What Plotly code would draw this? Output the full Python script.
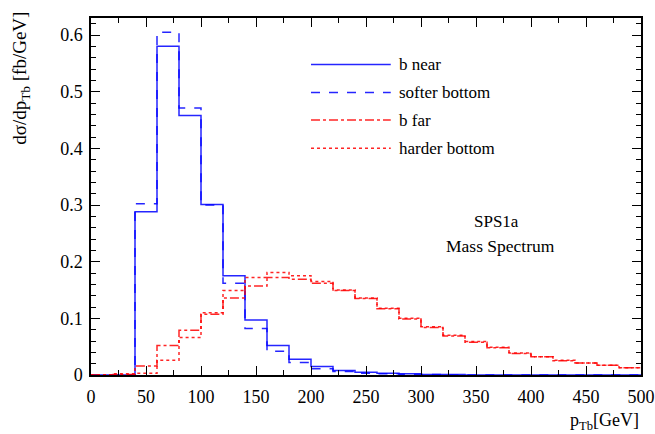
import plotly.graph_objects as go

# bin edges in GeV (20 GeV bins)
bin_edges = list(range(0, 520, 20))

b_near = [0, 0, 0.288, 0.580, 0.458, 0.301, 0.175, 0.097, 0.052, 0.028, 0.015, 0.008, 0.005,
          0.003, 0.002, 0.001, 0.001, 0, 0, 0, 0, 0, 0, 0, 0]
softer_bottom = [0, 0, 0.302, 0.605, 0.471, 0.300, 0.162, 0.082, 0.042, 0.022, 0.011, 0.006, 0.003,
                 0.002, 0.001, 0.001, 0, 0, 0, 0, 0, 0, 0, 0, 0]
b_far = [0, 0.001, 0.016, 0.052, 0.079, 0.107, 0.136, 0.157, 0.172, 0.169, 0.162, 0.149, 0.135,
         0.117, 0.099, 0.084, 0.069, 0.058, 0.048, 0.038, 0.032, 0.025, 0.021, 0.017, 0.013]
harder_bottom = [0, 0.002, 0.003, 0.026, 0.066, 0.110, 0.149, 0.172, 0.181, 0.175, 0.165, 0.150, 0.136,
                 0.118, 0.100, 0.085, 0.070, 0.059, 0.049, 0.039, 0.032, 0.026, 0.021, 0.017, 0.013]

series = [
    ("b near", b_near, "#0000ff", "solid"),
    ("softer bottom", softer_bottom, "#0000ff", "dash"),
    ("b far", b_far, "#ff0000", "dashdot"),
    ("harder bottom", harder_bottom, "#ff0000", "dot"),
]

FONT = "Liberation Serif, Times New Roman, serif"

fig = go.Figure()
for name, vals, color, dash in series:
    fig.add_trace(go.Scatter(
        x=bin_edges,
        y=vals + [vals[-1]],
        mode="lines",
        name=name,
        line=dict(color=color, dash=dash, width=1.5, shape="hv"),
        opacity=0.85,
        showlegend=False,
    ))

# legend drawn by hand: long line samples with text
leg_y = [0.870, 0.791, 0.714, 0.635]
for (name, vals, color, dash), yy in zip(series, leg_y):
    fig.add_shape(type="line", xref="paper", yref="paper",
                  x0=0.40, x1=0.545, y0=yy, y1=yy,
                  line=dict(color=color, dash=dash, width=1.5), opacity=0.85)
    fig.add_annotation(text=name, xref="paper", yref="paper", x=0.557, y=yy,
                       xanchor="left", yanchor="middle", showarrow=False,
                       font=dict(size=17, color="black", family=FONT))

fig.add_annotation(text="SPS1a", xref="paper", yref="paper", x=0.737, y=0.431,
                   xanchor="center", yanchor="middle", showarrow=False,
                   font=dict(size=17, color="black", family=FONT))
fig.add_annotation(text="Mass Spectrum", xref="paper", yref="paper", x=0.744, y=0.361,
                   xanchor="center", yanchor="middle", showarrow=False,
                   font=dict(size=17.5, color="black", family=FONT))

fig.add_annotation(text="p<sub>Tb</sub>[GeV]", xref="paper", yref="paper", x=1.0, y=-0.13,
                   xanchor="right", yanchor="middle", showarrow=False,
                   font=dict(size=18, color="black", family=FONT))
fig.add_annotation(text="dσ/dp<sub>Tb</sub> [fb/GeV]", xref="paper", yref="paper", x=-0.127, y=0.83,
                   textangle=-90, xanchor="center", yanchor="middle", showarrow=False,
                   font=dict(size=19, color="black", family=FONT))

axis_common = dict(
    showgrid=False, zeroline=False, showline=True, linecolor="black", linewidth=1.5,
    mirror="allticks", ticks="inside", ticklen=9, tickwidth=1, tickcolor="black",
    tickfont=dict(size=18, color="black", family=FONT), automargin=False,
)

fig.update_xaxes(range=[0, 500], dtick=50, tick0=0, ticklabelstandoff=5,
                 minor=dict(ticks="inside", ticklen=5, dtick=25, tickcolor="black"),
                 **axis_common)
fig.update_yaxes(range=[0, 0.63], dtick=0.1, tick0=0, tickformat=".1~f", ticklabelstandoff=3,
                 minor=dict(ticks="inside", ticklen=5, dtick=0.02, tickcolor="black"),
                 **axis_common)

fig.update_layout(
    width=655, height=434,
    template="plotly_white",
    plot_bgcolor="white", paper_bgcolor="white",
    margin=dict(l=91, r=14, t=18, b=59),
    font=dict(family=FONT, color="black"),
)

fig.write_html("out.html", config={"displayModeBar": False},
               post_script="document.body.style.margin='0';")
